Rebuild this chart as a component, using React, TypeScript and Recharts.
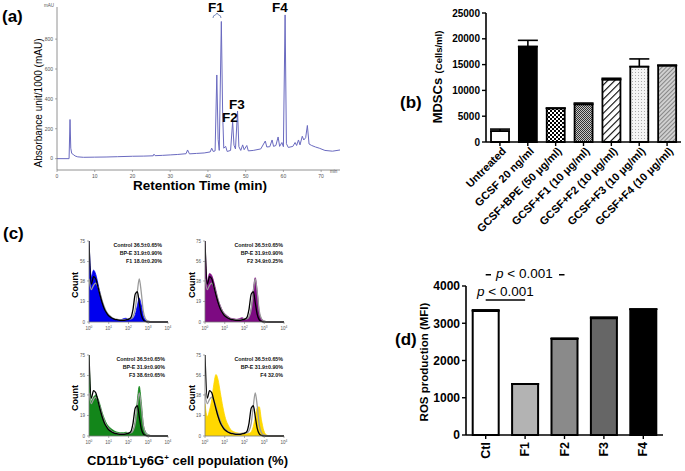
import React from "react";
import {
  Area,
  Bar,
  BarChart,
  Cell,
  ComposedChart,
  ErrorBar,
  Line,
  LineChart,
  ReferenceLine,
  XAxis,
  YAxis,
} from "recharts";

const FONT = '"Liberation Sans", Arial, Helvetica, sans-serif';

// (a) HPLC chromatogram
const retentionTimes = [
  0, 3.2, 3.45, 3.65, 3.9, 4.3, 4.8, 5.5, 7, 10, 13, 16, 20, 23, 25.5, 25.7, 26, 28, 30, 32, 34.2, 34.6, 35.1, 37, 39,
  40.6, 41, 41.4, 41.9, 42.35, 42.7, 43, 43.55, 43.9, 44.2, 44.7, 45.1, 46, 46.55, 46.9, 47.3, 47.85, 48.2, 48.7, 49.2,
  49.6, 50.3, 50.7, 52, 54, 55.2, 55.6, 56.4, 57, 57.4, 58, 58.6, 59, 59.6, 60, 60.45, 60.8, 61.3, 62.5, 63.1, 63.5, 64,
  64.4, 65, 65.4, 65.9, 66.35, 66.8, 67.5, 68.5, 69.5, 71, 73, 75,
];
const absorbance = [
  0, 0, 262, 70, 35, 28, 18, 12, 9, 10, 11, 13, 16, 17, 19, 30, 20, 22, 25, 28, 33, 58, 32, 35, 38,
  45, 70, 48, 52, 560, 130, 55, 918, 300, 70, 82, 48, 55, 248, 90, 65, 318, 80, 55, 92,
  60, 88, 52, 55, 65, 118, 78, 80, 125, 82, 88, 145, 82, 108, 80, 962, 100, 75, 82, 108, 88, 125,
  92, 150, 125, 140, 222, 98, 88, 78, 70, 55, 50, 58,
];
const absTicks = [0, 200, 400, 600, 800];
const timeTicks = [0, 10, 20, 30, 40, 50, 60, 70];

// (b) MDSC counts
const mdscGroups = [
  "Untreated",
  "GCSF 20 ng/ml",
  "GCSF+BPE (50 μg/ml)",
  "GCSF+F1 (10 μg/ml)",
  "GCSF+F2 (10 μg/ml)",
  "GCSF+F3 (10 μg/ml)",
  "GCSF+F4 (10 μg/ml)",
];
const mdscMeans = [2100, 18500, 6500, 7300, 12100, 14600, 14800];
const mdscErrors = [400, 1200, 80, 250, 250, 1500, 100];
const mdscFills = ["#ffffff", "#000000", "url(#chk)", "url(#fineChk)", "url(#hatch)", "url(#dots)", "url(#dense)"];
const mdscTicks = [0, 5000, 10000, 15000, 20000, 25000];

// (c) flow cytometry histograms
const channels = [
  1, 1.3, 1.7, 2.2, 2.8, 3.6, 4.6, 6, 8, 11, 15, 20, 28, 40, 55, 75, 100, 130, 170, 220, 280, 350, 440, 560, 720, 950,
  1300, 2000, 4000, 10000,
];
const controlCounts = [40, 30, 34, 36, 33, 27, 20, 14, 9, 6, 4, 3, 2.5, 2, 2, 2.5, 3, 3, 5, 12, 28, 40, 28, 10, 3, 1, 0.3, 0, 0, 0];
const bpeCounts = [75, 35, 42, 40, 33, 25, 18, 12, 8, 5, 3.5, 2.5, 2, 1.5, 1.5, 2, 2.5, 4, 12, 26, 28, 18, 7, 2, 0.5, 0, 0, 0, 0, 0];
const f1Counts = [75, 42, 48, 44, 36, 27, 19, 13, 8, 5, 3.5, 2.5, 2, 2, 3, 3.5, 2.5, 2.5, 3.5, 7, 15, 22, 16, 6, 2, 0.5, 0, 0, 0, 0];
const f2Counts = [75, 38, 45, 43, 37, 29, 21, 15, 10, 7, 5, 3.5, 3, 2.5, 3, 4, 3, 3, 5, 13, 30, 41, 28, 9, 3, 1, 0.3, 0, 0, 0];
const f3Counts = [75, 32, 36, 38, 35, 29, 22, 16, 11, 8, 6, 4.5, 3.5, 3, 3, 3.5, 3, 3, 5, 14, 33, 46, 32, 11, 4, 1.5, 0.5, 0, 0, 0];
const f4Counts = [30, 18, 24, 34, 48, 57, 52, 40, 27, 16, 10, 6, 4, 3, 2.5, 2.5, 2, 2, 2.5, 4, 9, 18, 26, 27, 15, 5, 1, 0, 0, 0];
const countTicks = [0, 19, 38, 56, 75];
const decadeTicks = [1, 10, 100, 1000, 10000];
const legendControl = "Control 36.5±0.65%";
const legendBpe = "BP-E 31.9±0.90%";

// (d) ROS production
const rosGroups = ["Ctl", "F1", "F2", "F3", "F4"];
const rosMeans = [3330, 1370, 2580, 3135, 3375];
const rosErrors = [30, 0, 20, 30, 0];
const rosFills = ["#ffffff", "#b3b3b3", "#8a8a8a", "#666666", "#000000"];
const rosTicks = [0, 1000, 2000, 3000, 4000];

const chromData = retentionTimes.map((t, i) => ({ t, v: absorbance[i] }));
const mdscData = mdscGroups.map((g, i) => ({ group: g, mean: mdscMeans[i], err: [0, mdscErrors[i]] }));
const rosData = rosGroups.map((g, i) => ({ group: g, mean: rosMeans[i], err: [0, rosErrors[i]] }));

const flowPanels = [
  { counts: f1Counts, color: "#0000ee", legend: "F1 18.0±0.20%", left: 75, top: 238, textRight: 162 },
  { counts: f2Counts, color: "#7d0a82", legend: "F2 34.9±0.25%", left: 191, top: 238, textRight: 283 },
  { counts: f3Counts, color: "#13861a", legend: "F3 38.6±0.65%", left: 75, top: 352, textRight: 165 },
  { counts: f4Counts, color: "#ffd800", legend: "F4 32.0%", left: 191, top: 352, textRight: 283 },
];

function DecadeTick({ x, y, payload }: any) {
  const exp = Math.round(Math.log10(payload.value));
  return (
    <text x={x} y={y + 4} textAnchor="middle" fontSize={4.5} fill="#555" fontFamily={FONT}>
      10
      <tspan dy={-2} fontSize={3.2}>
        {exp}
      </tspan>
    </text>
  );
}

function SlantTick({ x, y, payload }: any) {
  return (
    <g transform={`translate(${x + 4},${y + 1})`}>
      <text transform="rotate(-45)" textAnchor="end" dy={4} fontSize={11} fontWeight="bold" fill="#000" fontFamily={FONT}>
        {payload.value}
      </text>
    </g>
  );
}

function UpTick({ x, y, payload }: any) {
  return (
    <g transform={`translate(${x},${y + 1})`}>
      <text transform="rotate(-90)" textAnchor="end" dy={4} fontSize={12.5} fontWeight="bold" fill="#000" fontFamily={FONT}>
        {payload.value}
      </text>
    </g>
  );
}

function FlowPanel({ counts, color, legend, left, top, textRight }: any) {
  const data = channels.map((c, i) => ({ ch: c, control: controlCounts[i], bpe: bpeCounts[i], frac: counts[i] }));
  const lines = [legendControl, legendBpe, legend];
  return (
    <>
      <div style={{ position: "absolute", left, top }}>
        <ComposedChart width={97} height={96} data={data} margin={{ top: 3, right: 4, bottom: 0, left: 0 }}>
          <XAxis
            dataKey="ch"
            type="number"
            scale="log"
            domain={[1, 10000]}
            ticks={decadeTicks}
            tick={<DecadeTick />}
            height={12}
            tickSize={2}
            interval={0}
            axisLine={{ stroke: "#777", strokeWidth: 0.8 }}
            tickLine={{ stroke: "#777", strokeWidth: 0.6 }}
            allowDataOverflow
          />
          <YAxis
            domain={[0, 75]}
            ticks={countTicks}
            width={14}
            interval={0}
            tickSize={2}
            tick={{ fontSize: 4.5, fill: "#555", fontFamily: FONT }}
            axisLine={{ stroke: "#777", strokeWidth: 0.8 }}
            tickLine={{ stroke: "#777", strokeWidth: 0.6 }}
          />
          <Area dataKey="frac" type="monotone" fill={color} fillOpacity={1} stroke={color} strokeWidth={0.8} isAnimationActive={false} />
          <Line dataKey="control" type="monotone" stroke="#9b9b9b" strokeWidth={1.3} dot={false} isAnimationActive={false} />
          <Line dataKey="bpe" type="monotone" stroke="#000000" strokeWidth={1.3} dot={false} isAnimationActive={false} />
        </ComposedChart>
      </div>
      {lines.map((t, i) => (
        <div
          key={t}
          style={{
            position: "absolute",
            right: 685 - textRight,
            top: top + 4 + i * 8,
            fontSize: 5.3,
            fontWeight: "bold",
            lineHeight: "7px",
            whiteSpace: "nowrap",
            color: "#111",
          }}
        >
          {t}
        </div>
      ))}
    </>
  );
}

function Rotated({ x, y, children, style }: any) {
  return (
    <div
      style={{
        position: "absolute",
        left: x,
        top: y,
        transform: "translate(-50%, -50%) rotate(-90deg)",
        whiteSpace: "nowrap",
        ...style,
      }}
    >
      {children}
    </div>
  );
}

export default function App() {
  const boldLabel = { fontSize: 17, fontWeight: "bold" as const, position: "absolute" as const };
  const peakLabel = { position: "absolute" as const, fontSize: 13.5, fontWeight: "bold" as const, lineHeight: "13px" };
  return (
    <div
      style={{
        position: "absolute",
        left: 0,
        top: 0,
        width: 685,
        height: 471,
        background: "#fff",
        fontFamily: FONT,
        overflow: "hidden",
      }}
    >
      {/* (a) */}
      <div style={{ position: "absolute", left: 0, top: 0 }}>
        <LineChart width={345} height={200} data={chromData} margin={{ top: 7, right: 5, bottom: 0, left: 0 }}>
          <XAxis
            dataKey="t"
            type="number"
            domain={[0, 75]}
            ticks={timeTicks}
            interval={0}
            height={30}
            tickSize={2}
            tick={{ fontSize: 5, fill: "#555", fontFamily: FONT }}
            axisLine={{ stroke: "#777", strokeWidth: 0.8 }}
            tickLine={{ stroke: "#777", strokeWidth: 0.6 }}
          />
          <YAxis
            type="number"
            domain={[-76, 1015]}
            ticks={absTicks}
            interval={0}
            width={57}
            tickSize={2}
            tick={{ fontSize: 5, fill: "#555", fontFamily: FONT }}
            axisLine={{ stroke: "#777", strokeWidth: 0.8 }}
            tickLine={{ stroke: "#777", strokeWidth: 0.6 }}
          />
          <Line dataKey="v" type="linear" stroke="#6a6ac0" strokeWidth={1} dot={false} isAnimationActive={false} />
        </LineChart>
      </div>
      <div style={{ ...boldLabel, left: 2, top: 7 }}>(a)</div>
      <div style={{ position: "absolute", left: 44, top: 3, fontSize: 4.5, color: "#555" }}>mAU</div>
      <div style={{ position: "absolute", left: 330, top: 169, fontSize: 4.5, color: "#555" }}>min</div>
      <Rotated x={38} y={103} style={{ fontSize: 10 }}>
        Absorbance unit/1000 (mAU)
      </Rotated>
      <div style={{ position: "absolute", left: 133, top: 178, fontSize: 13.5, fontWeight: "bold" }}>
        Retention Time (min)
      </div>
      <div style={{ ...peakLabel, left: 208, top: 1 }}>F1</div>
      <div style={{ ...peakLabel, left: 272, top: 1 }}>F4</div>
      <div style={{ ...peakLabel, left: 229, top: 98 }}>F3</div>
      <div style={{ ...peakLabel, left: 222, top: 111 }}>F2</div>
      <svg style={{ position: "absolute", left: 210, top: 10 }} width={14} height={10}>
        <path d="M3,8 Q3,5 5.5,5 L7,3 L8.5,5 Q11,5 11,8" fill="none" stroke="#6a7fb5" strokeWidth={0.9} />
      </svg>

      {/* (b) */}
      <div style={{ position: "absolute", left: 440, top: 0 }}>
        <BarChart width={245} height={235} data={mdscData} margin={{ top: 13, right: 4, bottom: 0, left: 0 }} barCategoryGap="18%">
          <defs>
            <pattern id="chk" width={4} height={4} patternUnits="userSpaceOnUse">
              <rect width={4} height={4} fill="#fff" />
              <rect width={2} height={2} fill="#000" />
              <rect x={2} y={2} width={2} height={2} fill="#000" />
            </pattern>
            <pattern id="fineChk" width={2} height={2} patternUnits="userSpaceOnUse">
              <rect width={2} height={2} fill="#c8c8c8" />
              <rect width={1} height={1} fill="#333" />
              <rect x={1} y={1} width={1} height={1} fill="#333" />
            </pattern>
            <pattern id="hatch" width={5} height={5} patternUnits="userSpaceOnUse" patternTransform="rotate(45)">
              <rect width={5} height={5} fill="#fff" />
              <line x1={0} y1={0} x2={0} y2={5} stroke="#000" strokeWidth={2.2} />
            </pattern>
            <pattern id="dots" width={3} height={3} patternUnits="userSpaceOnUse">
              <rect width={3} height={3} fill="#f4f4f4" />
              <rect width={1} height={1} fill="#aaa" />
            </pattern>
            <pattern id="dense" width={3} height={3} patternUnits="userSpaceOnUse" patternTransform="rotate(45)">
              <rect width={3} height={3} fill="#d0d0d0" />
              <line x1={0} y1={0} x2={0} y2={3} stroke="#555" strokeWidth={1.2} />
            </pattern>
          </defs>
          <XAxis
            dataKey="group"
            height={93}
            interval={0}
            tickSize={4}
            tick={<SlantTick />}
            axisLine={{ stroke: "#000", strokeWidth: 1.6 }}
            tickLine={{ stroke: "#000", strokeWidth: 1.4 }}
          />
          <YAxis
            domain={[0, 25000]}
            ticks={mdscTicks}
            interval={0}
            width={46}
            tickSize={4}
            tick={{ fontSize: 10, fontWeight: "bold", fill: "#000", fontFamily: FONT }}
            axisLine={{ stroke: "#000", strokeWidth: 1.6 }}
            tickLine={{ stroke: "#000", strokeWidth: 1.4 }}
          />
          <Bar dataKey="mean" stroke="#000" strokeWidth={1.8} isAnimationActive={false}>
            {mdscData.map((d, i) => (
              <Cell key={d.group} fill={mdscFills[i]} />
            ))}
            <ErrorBar dataKey="err" width={10} stroke="#000" strokeWidth={1.6} direction="y" />
          </Bar>
        </BarChart>
      </div>
      <div style={{ ...boldLabel, left: 400, top: 93 }}>(b)</div>
      <Rotated x={437} y={77} style={{ fontWeight: "bold" }}>
        <span style={{ fontSize: 13 }}>MDSCs</span> <span style={{ fontSize: 9.5 }}>(Cells/ml)</span>
      </Rotated>

      {/* (c) */}
      <div style={{ ...boldLabel, left: 3, top: 224 }}>(c)</div>
      {flowPanels.map((p) => (
        <FlowPanel key={p.legend} {...p} />
      ))}
      <Rotated x={75} y={285} style={{ fontSize: 9, fontWeight: "bold" }}>Count</Rotated>
      <Rotated x={192} y={285} style={{ fontSize: 9, fontWeight: "bold" }}>Count</Rotated>
      <Rotated x={75} y={398} style={{ fontSize: 9, fontWeight: "bold" }}>Count</Rotated>
      <Rotated x={192} y={398} style={{ fontSize: 9, fontWeight: "bold" }}>Count</Rotated>
      <div style={{ position: "absolute", left: 87, top: 453, fontSize: 13, fontWeight: "bold", whiteSpace: "nowrap" }}>
        CD11b<sup style={{ fontSize: 8 }}>+</sup>Ly6G<sup style={{ fontSize: 8 }}>+</sup> cell population (%)
      </div>

      {/* (d) */}
      <div style={{ position: "absolute", left: 400, top: 270 }}>
        <BarChart width={273} height={201} data={rosData} margin={{ top: 16, right: 10, bottom: 0, left: 0 }} barCategoryGap="17%">
          <XAxis
            dataKey="group"
            height={36}
            interval={0}
            tickSize={4}
            tick={<UpTick />}
            axisLine={{ stroke: "#000", strokeWidth: 1.6 }}
            tickLine={{ stroke: "#000", strokeWidth: 1.4 }}
          />
          <YAxis
            domain={[0, 4000]}
            ticks={rosTicks}
            interval={0}
            width={66}
            tickSize={4}
            tick={{ fontSize: 12, fontWeight: "bold", fill: "#000", fontFamily: FONT }}
            axisLine={{ stroke: "#000", strokeWidth: 1.6 }}
            tickLine={{ stroke: "#000", strokeWidth: 1.4 }}
          />
          <Bar dataKey="mean" stroke="#000" strokeWidth={2} isAnimationActive={false}>
            {rosData.map((d, i) => (
              <Cell key={d.group} fill={rosFills[i]} />
            ))}
            <ErrorBar dataKey="err" width={14} stroke="#000" strokeWidth={1.6} direction="y" />
          </Bar>
          <ReferenceLine segment={[{ x: "Ctl", y: 3625 }, { x: "F1", y: 3625 }]} stroke="#000" strokeWidth={1.5} ifOverflow="visible" />
          <ReferenceLine segment={[{ x: "Ctl", y: 4300 }, { x: "F2", y: 4300 }]} stroke="#000" strokeWidth={1.5} ifOverflow="visible" />
        </BarChart>
      </div>
      <div style={{ position: "absolute", left: 477, top: 284, fontSize: 13.5, lineHeight: "15px" }}>
        <i>p</i> &lt; 0.001
      </div>
      <div style={{ position: "absolute", left: 491, top: 266, fontSize: 13.5, lineHeight: "15px", background: "#fff", padding: "0 6px 0 5px" }}>
        <i>p</i> &lt; 0.001
      </div>
      <div style={{ ...boldLabel, left: 395, top: 330 }}>(d)</div>
      <Rotated x={424} y={362} style={{ fontSize: 11.5, fontWeight: "bold" }}>
        ROS production (MFI)
      </Rotated>
    </div>
  );
}
